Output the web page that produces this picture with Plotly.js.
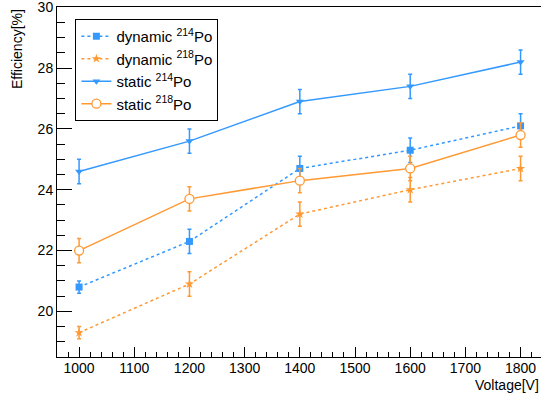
<!DOCTYPE html>
<html>
<head>
<meta charset="utf-8">
<script src="https://cdn.plot.ly/plotly-3.0.1.min.js"></script>
<style>html,body{margin:0;padding:0;background:#fff;}#chart{width:541px;height:394px;}</style>
</head>
<body>
<div id="chart"></div>
<script>
const voltage = [1000, 1200, 1400, 1600, 1800];
const dynamic214 = [20.8, 22.3, 24.7, 25.3, 26.1];
const dynamic214Err = [0.2, 0.4, 0.4, 0.4, 0.4];
const dynamic218 = [19.3, 20.9, 23.2, 24.0, 24.7];
const dynamic218Err = [0.2, 0.4, 0.4, 0.4, 0.4];
const static214 = [24.6, 25.6, 26.9, 27.4, 28.2];
const static214Err = [0.4, 0.4, 0.4, 0.4, 0.4];
const static218 = [22.0, 23.7, 24.3, 24.7, 25.8];
const static218Err = [0.4, 0.4, 0.4, 0.4, 0.4];
const seriesNames = ['dynamic <sup>214</sup>Po', 'dynamic <sup>218</sup>Po', 'static <sup>214</sup>Po', 'static <sup>218</sup>Po'];
const xTickVals = [1000, 1100, 1200, 1300, 1400, 1500, 1600, 1700, 1800];
const yTickVals = [20, 22, 24, 26, 28, 30];

const BLUE = '#3399ff';
const ORANGE = '#ff9933';

function mk(y, err, name, color, dash, symbol, filled) {
  return {
    x: voltage, y: y, name: name, type: 'scatter', mode: 'lines+markers',
    line: {color: color, width: 1.5, dash: dash},
    marker: {color: filled ? color : 'rgba(255,255,255,1)', symbol: symbol, size: filled ? 7 : 9,
             line: {color: color, width: filled ? 0 : 1.3}},
    error_y: {type: 'data', array: err, visible: true, color: color, thickness: 1.5, width: 2}
  };
}

const data = [
  mk(dynamic214, dynamic214Err, seriesNames[0], BLUE, 'dot', 'square', true),
  mk(dynamic218, dynamic218Err, seriesNames[1], ORANGE, 'dot', 'star', true),
  mk(static214, static214Err, seriesNames[2], BLUE, 'solid', 'triangle-down', true),
  mk(static218, static218Err, seriesNames[3], ORANGE, 'solid', 'circle', false)
];

const layout = {
  width: 541, height: 394,
  margin: {l: 57, r: 0, t: 7, b: 37},
  paper_bgcolor: '#ffffff', plot_bgcolor: '#ffffff',
  font: {family: 'Liberation Sans, Arial, sans-serif', size: 14, color: '#000'},
  showlegend: true,
  legend: {
    x: 0.038, y: 0.966, xanchor: 'left', yanchor: 'top',
    bordercolor: '#000', borderwidth: 1, bgcolor: '#ffffff',
    font: {size: 15, family: 'Liberation Sans, Arial, sans-serif'},
    tracegroupgap: 0, itemwidth: 30
  },
  xaxis: {
    range: [960, 1837], tickvals: xTickVals, ticktext: xTickVals.map(String),
    ticks: 'inside', ticklen: 10, tickcolor: '#000', tickwidth: 1, ticklabelstandoff: -2,
    minor: {dtick: 20, tick0: 1000, ticks: 'inside', ticklen: 5, tickcolor: '#000', tickwidth: 1, showgrid: false},
    showline: true, linecolor: '#000', linewidth: 1, mirror: true,
    showgrid: false, zeroline: false, tickfont: {size: 14}
  },
  yaxis: {
    range: [18.5, 30.01], tickvals: yTickVals, ticktext: yTickVals.map(String),
    ticks: 'inside', ticklen: 15, tickcolor: '#000', tickwidth: 1, ticklabeloverflow: 'allow',
    minor: {dtick: 0.5, tick0: 20, ticks: 'inside', ticklen: 8, tickcolor: '#000', tickwidth: 1, showgrid: false},
    showline: true, linecolor: '#000', linewidth: 1, mirror: false,
    showgrid: false, zeroline: false, tickfont: {size: 14}
  },
  annotations: [
    {text: 'Voltage[V]', xref: 'paper', yref: 'paper', x: 1, y: 0, xanchor: 'right', yanchor: 'top',
     yshift: -18, showarrow: false, font: {size: 14}},
    {text: 'Efficiency[%]', xref: 'paper', yref: 'paper', x: 0, y: 1, xanchor: 'right', yanchor: 'top',
     xshift: -30, yshift: 0, textangle: -90, showarrow: false, font: {size: 14}}
  ]
};

Plotly.newPlot('chart', data, layout, {displayModeBar: false, staticPlot: true});
</script>
</body>
</html>
